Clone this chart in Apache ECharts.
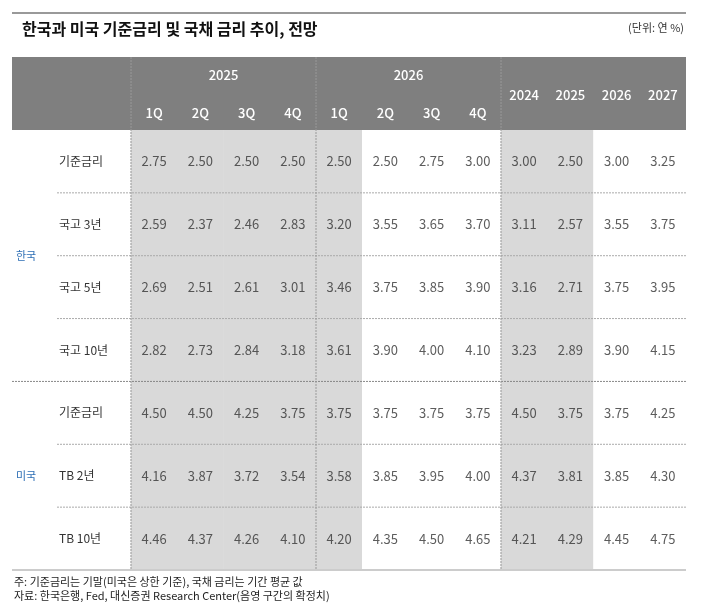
<!DOCTYPE html>
<html><head><meta charset="utf-8">
<script src="https://cdn.jsdelivr.net/npm/echarts@6/dist/echarts.min.js"></script>
<style>html,body{margin:0;background:#fff}#c{width:702px;height:608px}</style>
</head><body><div id="c"></div>
<script>
const columns = ["1Q", "2Q", "3Q", "4Q", "1Q", "2Q", "3Q", "4Q", "2024", "2025", "2026", "2027"];
const groups = [["2025", 0, 3], ["2026", 4, 7]];
const rowLabels = ["기준금리", "국고 3년", "국고 5년", "국고 10년", "기준금리", "TB 2년", "TB 10년"];
const countries = [["한국", 0, 3], ["미국", 4, 6]];
const shadedCols = [0, 1, 2, 3, 4, 8, 9];
const values = [
  [2.75, 2.50, 2.50, 2.50, 2.50, 2.50, 2.75, 3.00, 3.00, 2.50, 3.00, 3.25],
  [2.59, 2.37, 2.46, 2.83, 3.20, 3.55, 3.65, 3.70, 3.11, 2.57, 3.55, 3.75],
  [2.69, 2.51, 2.61, 3.01, 3.46, 3.75, 3.85, 3.90, 3.16, 2.71, 3.75, 3.95],
  [2.82, 2.73, 2.84, 3.18, 3.61, 3.90, 4.00, 4.10, 3.23, 2.89, 3.90, 4.15],
  [4.50, 4.50, 4.25, 3.75, 3.75, 3.75, 3.75, 3.75, 4.50, 3.75, 3.75, 4.25],
  [4.16, 3.87, 3.72, 3.54, 3.58, 3.85, 3.95, 4.00, 4.37, 3.81, 3.85, 4.30],
  [4.46, 4.37, 4.26, 4.10, 4.20, 4.35, 4.50, 4.65, 4.21, 4.29, 4.45, 4.75]
];

const FONT = "'Noto Sans CJK KR', 'Noto Sans', sans-serif";
const chart = echarts.init(document.getElementById("c"));

const cells = [];
const bg = [];
values.forEach((row, r) => row.forEach((v, c) => {
  cells.push([c, r, v]);
  bg.push({ value: [c, r, 1], itemStyle: { color: shadedCols.includes(c) ? "#d9d9d9" : "#ffffff" } });
}));

chart.setOption({
  animation: false,
  grid: { left: 131, right: 16, top: 130, bottom: 38 },
  xAxis: { type: "category", data: columns, axisLine: { show: false }, axisTick: { show: false },
    axisLabel: { show: false }, splitLine: { show: false } },
  yAxis: { type: "category", data: rowLabels, inverse: true, axisLine: { show: false },
    axisTick: { show: false }, axisLabel: { show: false } },
  series: [
    { type: "heatmap", data: bg, itemStyle: { borderWidth: 0 }, silent: true },
    { type: "scatter", data: cells, symbolSize: 0, silent: true, z: 20,
      label: { show: true, position: "inside", color: "#333", fontSize: 13, fontFamily: FONT,
        formatter: p => p.value[2].toFixed(2) } }
  ]
});

function px(c, r) { return chart.convertToPixel({ gridIndex: 0 }, [c, r]); }
const cw = 555 / 12, rh = 440 / 7;
const g = [];
// title
g.push({ type: "line", shape: { x1: 12, y1: 13, x2: 686, y2: 13 }, style: { stroke: "#999", lineWidth: 2 } });
g.push({ type: "text", left: 22, top: 21, style: { text: "한국과 미국 기준금리 및 국채 금리 추이, 전망", font: "bold 16px " + FONT, fill: "#111" } });
g.push({ type: "text", right: 18, top: 22, style: { text: "(단위: 연 %)", font: "11px " + FONT, fill: "#333" } });
// header
g.push({ type: "rect", shape: { x: 12, y: 57, width: 674, height: 73 }, style: { fill: "#7f7f7f" } });
groups.forEach(([name, a, b]) => {
  const x = (px(a, 0)[0] + px(b, 0)[0]) / 2;
  g.push({ type: "text", x: x, y: 75, style: { text: name, font: "500 13px " + FONT, fill: "#fff", align: "center", verticalAlign: "middle" } });
});
columns.forEach((name, c) => {
  const x = px(c, 0)[0];
  g.push({ type: "text", x: x, y: c < 8 ? 113 : 95, style: { text: name, font: "500 13px " + FONT, fill: "#fff", align: "center", verticalAlign: "middle" } });
});
// row labels and separators
rowLabels.forEach((name, r) => {
  const y = px(0, r)[1];
  g.push({ type: "text", x: 59, y: y, style: { text: name, font: "12px " + FONT, fill: "#333", verticalAlign: "middle" } });
  if (r > 0) {
    const ly = y - rh / 2;
    const full = r === 4;
    g.push({ type: "line", shape: { x1: full ? 12 : 57, y1: ly, x2: 686, y2: ly },
      style: { stroke: full ? "#888" : "#aaa", lineWidth: 1, lineDash: [2, 1] } });
  }
});
countries.forEach(([name, a, b]) => {
  const y = (px(0, a)[1] + px(0, b)[1]) / 2;
  g.push({ type: "text", x: 16, y: y, style: { text: name, font: "11px " + FONT, fill: "#2e6fb5", verticalAlign: "middle" } });
});
[0, 4, 8].forEach(c => {
  const x = px(c, 0)[0] - cw / 2;
  g.push({ type: "line", shape: { x1: x, y1: 57, x2: x, y2: 570 }, style: { stroke: "#999", lineWidth: 1, lineDash: [2, 1] } });
});
g.push({ type: "line", shape: { x1: 12, y1: 570, x2: 686, y2: 570 }, style: { stroke: "#ccc", lineWidth: 2 } });
g.push({ type: "text", left: 14, top: 575, style: { text: "주: 기준금리는 기말(미국은 상한 기준), 국채 금리는 기간 평균 값\n자료: 한국은행, Fed, 대신증권 Research Center(음영 구간의 확정치)", font: "11px " + FONT, fill: "#222", lineHeight: 14 } });
chart.setOption({ graphic: g.map(e => Object.assign({ z: 100 }, e)) });
</script></body></html>
